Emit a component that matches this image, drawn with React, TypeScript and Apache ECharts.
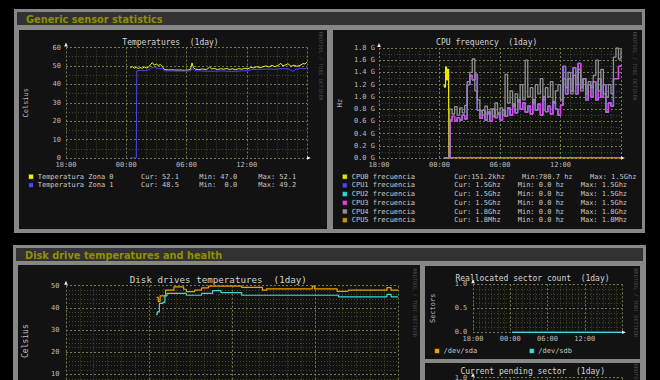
import React, { useEffect, useRef } from 'react';
import * as echarts from 'echarts';

// ---------------- data ----------------
// x values are hours elapsed since 18:00 of the previous day
const xTickLabels = ['18:00', '00:00', '06:00', '12:00'];

const tempSeriesNames = ['Temperatura Zona 0', 'Temperatura Zona 1'];
const tempCur = ['52.1', '48.5'];
const tempMin = ['47.0', ' 0.0'];
const tempMax = ['52.1', '49.2'];

const zona0Values: [number, number][] = [
  [6.4, 49.0], [6.6, 49.6], [6.8, 48.8], [7.0, 49.3], [7.2, 48.6], [7.4, 49.1], [7.6, 48.7], [7.8, 49.4],
  [8.0, 48.9], [8.2, 49.2], [8.4, 50.6], [8.6, 51.8], [8.8, 50.4], [9.0, 51.0], [9.2, 50.2], [9.4, 50.8],
  [9.6, 49.6], [9.8, 48.0], [10.2, 47.8], [10.6, 47.9], [11.0, 47.7], [11.4, 47.8], [11.8, 47.6], [12.2, 47.8],
  [12.4, 48.2], [12.55, 51.6], [12.7, 49.0], [12.9, 48.2], [13.2, 48.0], [13.6, 48.3], [14.0, 48.0], [14.3, 49.4],
  [14.5, 48.4], [14.8, 48.6], [15.1, 48.0], [15.4, 48.5], [15.7, 48.2], [16.0, 48.6], [16.3, 48.1], [16.6, 48.4],
  [16.9, 48.0], [17.2, 48.5], [17.5, 48.2], [17.8, 48.7], [18.1, 48.3], [18.4, 49.3], [18.7, 48.9], [19.0, 49.6],
  [19.3, 49.0], [19.6, 49.5], [19.9, 50.0], [20.2, 49.4], [20.5, 50.3], [20.8, 49.6], [21.1, 50.2], [21.4, 51.4],
  [21.6, 50.0], [21.9, 50.6], [22.1, 51.2], [22.4, 49.8], [22.7, 50.4], [23.0, 49.8], [23.3, 50.2], [23.6, 51.3],
  [23.8, 51.0], [24.0, 52.1],
];

const zona1Values: [number, number][] = [
  [6.4, 0], [7.0, 0], [7.05, 47.3], [7.4, 47.6], [7.8, 47.4], [8.2, 47.8], [8.5, 48.9], [8.8, 49.2],
  [9.2, 48.7], [9.6, 48.4], [9.8, 47.4], [10.5, 47.3], [11.5, 47.2], [12.4, 47.3], [12.55, 48.6], [12.8, 47.5],
  [13.5, 47.2], [14.5, 47.1], [15.5, 47.3], [16.5, 47.0], [17.5, 47.3], [18.1, 47.4], [18.5, 48.0], [19.2, 48.1],
  [20.0, 48.3], [20.8, 48.2], [21.5, 48.5], [22.2, 48.4], [22.6, 47.0], [22.9, 48.2], [23.4, 48.6], [23.8, 48.4],
  [24.0, 49.0],
];

const cpuSeriesNames = ['CPU0 frecuencia', 'CPU1 frecuencia', 'CPU2 frecuencia', 'CPU3 frecuencia', 'CPU4 frecuencia', 'CPU5 frecuencia'];
const cpuCur = ['151.2khz', ' 1.5Ghz', ' 1.5Ghz', ' 1.5Ghz', ' 1.8Ghz', ' 1.8Mhz'];
const cpuMin = ['780.7 hz', ' 0.0 hz', ' 0.0 hz', ' 0.0 hz', ' 0.0 hz', ' 0.0 hz'];
const cpuMax = [' 1.5Ghz', ' 1.5Ghz', ' 1.5Ghz', ' 1.5Ghz', ' 1.8Ghz', ' 1.8Mhz'];

// GHz
const cpu0Values: [number, number][] = [
  [6.43, 1.2], [6.5, 1.16], [6.6, 1.49], [6.7, 1.28], [6.8, 1.45], [6.9, 1.3], [6.93, 0.0002], [24.0, 0.00015],
];
const cpu3Values: [number, number][] = [
  [6.43, 0], [6.95, 0], [7.05, 0.62], [7.25, 0.68], [7.5, 0.6], [7.75, 0.66], [8.0, 0.62], [8.25, 0.7],
  [8.5, 0.64], [8.75, 1.2], [9.0, 1.35], [9.25, 1.28], [9.5, 1.37], [9.75, 0.78], [10.0, 0.65], [10.25, 0.78],
  [10.5, 0.62], [10.75, 0.75], [11.0, 0.6], [11.25, 0.8], [11.5, 0.66], [11.75, 0.72], [12.0, 0.62], [12.25, 0.78],
  [12.5, 0.68], [12.75, 0.82], [13.0, 0.7], [13.25, 0.88], [13.5, 0.74], [13.75, 0.95], [14.0, 0.8], [14.25, 0.9],
  [14.5, 0.75], [14.75, 0.85], [15.0, 0.72], [15.25, 0.95], [15.5, 0.78], [15.75, 0.88], [16.0, 0.7], [16.25, 1.0],
  [16.5, 0.76], [16.75, 0.85], [17.0, 0.72], [17.25, 0.92], [17.5, 0.8], [17.75, 0.7], [18.0, 0.86], [18.25, 1.5],
  [18.5, 1.05], [18.75, 1.3], [19.0, 1.1], [19.25, 1.48], [19.5, 1.05], [19.75, 1.55], [20.0, 1.15], [20.25, 1.3],
  [20.5, 0.95], [20.75, 1.2], [21.0, 1.0], [21.25, 1.25], [21.5, 0.95], [21.75, 1.3], [22.0, 1.0], [22.25, 1.2],
  [22.5, 0.75], [22.75, 0.9], [23.0, 0.85], [23.25, 1.3], [23.5, 1.3], [23.75, 1.5], [24.0, 1.52],
];
// CPU1..CPU3 share one clock domain, so their readings coincide
const cpu1Values = cpu3Values;
const cpu2Values = cpu3Values;
const cpu4Values: [number, number][] = [
  [6.43, 0], [6.95, 0], [7.0, 0.8], [7.25, 0.72], [7.5, 0.84], [7.75, 0.7], [8.0, 0.82], [8.25, 0.74],
  [8.5, 0.86], [8.75, 1.25], [9.0, 1.4], [9.25, 1.62], [9.5, 1.1], [9.75, 0.95], [10.0, 0.78], [10.25, 0.7],
  [10.5, 0.85], [10.75, 0.72], [11.0, 0.8], [11.25, 0.68], [11.5, 0.9], [11.75, 0.74], [12.0, 0.82], [12.25, 0.7],
  [12.5, 1.37], [12.75, 0.9], [13.0, 1.1], [13.25, 0.85], [13.5, 1.05], [13.75, 0.92], [14.0, 1.2], [14.25, 0.95],
  [14.5, 1.6], [14.75, 1.0], [15.0, 1.15], [15.25, 0.9], [15.5, 1.2], [15.75, 1.05], [16.0, 1.3], [16.25, 0.95],
  [16.5, 1.15], [16.75, 1.0], [17.0, 1.25], [17.25, 0.9], [17.5, 1.1], [17.75, 1.2], [18.0, 0.95], [18.25, 1.3],
  [18.5, 1.15], [18.75, 1.4], [19.0, 1.05], [19.25, 1.35], [19.5, 1.2], [19.75, 1.45], [20.0, 1.1], [20.25, 1.3],
  [20.5, 1.05], [20.75, 1.25], [21.0, 1.15], [21.25, 1.35], [21.5, 1.6], [21.75, 1.1], [22.0, 1.45], [22.25, 1.05],
  [22.5, 1.0], [22.75, 1.2], [23.0, 1.05], [23.25, 1.65], [23.5, 1.8], [23.75, 1.62], [24.0, 1.78],
];
const cpu5Values: [number, number][] = [[7.0, 0.0018], [24.0, 0.0018]];

const diskNames = ['/dev/sda', '/dev/sdb'];
const sdaTemps: [number, number][] = [
  [6.55, 44.7], [6.67, 42.8], [6.8, 45.4], [7.05, 45.4], [7.2, 48.0], [7.6, 48.0], [7.8, 49.5], [8.3, 49.5],
  [8.5, 48.4], [8.7, 47.3], [9.1, 47.3], [9.3, 48.0], [9.6, 48.0], [9.8, 49.0], [10.2, 49.0], [10.3, 49.8],
  [12.6, 49.8], [12.7, 49.2], [14.0, 49.2], [14.2, 48.0], [14.5, 48.6], [17.7, 48.6], [17.8, 49.8], [17.95, 48.6],
  [19.5, 48.6], [19.6, 47.4], [20.3, 47.6], [20.4, 48.0], [23.1, 48.0], [23.2, 49.1], [23.4, 49.1], [23.5, 48.0],
  [24.0, 48.0],
];
const sdbTemps: [number, number][] = [
  [6.5, 37.1], [6.6, 38.2], [6.75, 42.0], [7.0, 42.5], [7.15, 45.4], [7.3, 46.5], [8.6, 46.5], [8.7, 45.7],
  [9.7, 45.7], [9.8, 46.5], [10.5, 46.5], [10.6, 47.8], [11.1, 47.8], [11.2, 46.9], [12.6, 46.9], [12.7, 45.7],
  [19.6, 45.7], [19.7, 45.0], [23.1, 45.0], [23.2, 46.1], [23.4, 46.1], [23.5, 45.0], [24.0, 44.8],
];
const sdaRealloc: [number, number][] = [[6.3, 0], [24.0, 0]];
const sdbRealloc: [number, number][] = [[6.3, 0], [24.0, 0]];
const sdaPending: [number, number][] = [[6.3, 0], [24.0, 0]];
const sdbPending: [number, number][] = [[6.3, 0], [24.0, 0]];

// ---------------- styles / layout ----------------
const MONO = '"DejaVu Sans Mono", "Liberation Mono", monospace';
const SANS = '"DejaVu Sans", Verdana, sans-serif';
const LABEL = '#bdbdbd';
const MAJOR = '#6c7f4e';
const MINOR = '#424a22';
const PANEL = '#878787';
const TITLEBAR = '#323232';
const BOX = '#121212';
const OLIVE = '#909000';
const WATERMARK = '#4a4a4a';

const tempColors = ['#eeee22', '#4848f0'];
const cpuColors = ['#e8e800', '#4848f0', '#30d8d8', '#e040e0', '#909090', '#d09010'];
const diskColors = ['#f0a000', '#40d8d8'];

const GRIDS = [
  { left: 66, top: 47.5, width: 241, height: 110.5 },
  { left: 379, top: 48, width: 242, height: 110 },
  { left: 66, top: 285.7, width: 332, height: 110.8 },
  { left: 473, top: 284.3, width: 149, height: 48 },
  { left: 473, top: 377.7, width: 149, height: 48 },
];

const pre = (s: string) => s.replace(/  /g, ' \u00a0');

function makeX(gridIndex: number) {
  return {
    type: 'value', gridIndex, min: 0, max: 24, interval: 6,
    axisLine: { show: false }, axisTick: { show: false },
    axisLabel: {
      show: true, color: LABEL, fontFamily: MONO, fontSize: 7, margin: 3,
      formatter: (v: number) => xTickLabels[Math.round(v / 6)] ?? '',
    },
    splitLine: { show: true, lineStyle: { color: MAJOR, width: 1, type: [2, 2] } },
    minorTick: { show: false, splitNumber: 6 },
    minorSplitLine: { show: true, lineStyle: { color: MINOR, width: 1, type: [1, 2] } },
  };
}

function makeY(gridIndex: number, max: number, interval: number, minorSplit: number, name: string,
  nameGap: number, margin: number, fmt: (v: number) => string, nameSize = 7) {
  return {
    type: 'value', gridIndex, min: 0, max, interval,
    name, nameLocation: 'middle', nameRotate: 90, nameGap, nameMoveOverlap: false,
    nameTextStyle: { color: LABEL, fontFamily: MONO, fontSize: nameSize },
    axisLine: { show: false }, axisTick: { show: false },
    axisLabel: { show: true, color: LABEL, fontFamily: MONO, fontSize: 7, margin, formatter: fmt },
    splitLine: { show: true, lineStyle: { color: MAJOR, width: 1, type: [2, 2] } },
    minorTick: { show: false, splitNumber: minorSplit },
    minorSplitLine: { show: true, lineStyle: { color: MINOR, width: 1, type: [1, 2] } },
  };
}

function line(name: string, idx: number, data: [number, number][], color: string, step?: string, width = 1) {
  return {
    type: 'line', name, xAxisIndex: idx, yAxisIndex: idx, data, step: step ?? false,
    showSymbol: false, symbol: 'none', silent: true,
    lineStyle: { color, width }, itemStyle: { color },
  };
}

function rect(x: number, y: number, w: number, h: number, fill: string, z = -10) {
  return { type: 'rect', z, silent: true, shape: { x, y, width: w, height: h }, style: { fill } };
}

function text(x: number, y: number, s: string, o: any = {}) {
  return {
    type: 'text', x, y, rotation: o.rotation ?? 0, z: 50, silent: true,
    style: {
      text: s, fill: o.color ?? '#c8c8c8', fontSize: o.size ?? 7, fontFamily: o.family ?? MONO,
      fontWeight: o.weight ?? 'normal', textAlign: o.align ?? 'left', textVerticalAlign: 'middle',
    },
  };
}

function square(x: number, y: number, color: string) {
  return { type: 'rect', z: 50, silent: true, shape: { x, y: y - 2.5, width: 5, height: 5 }, style: { fill: color, stroke: '#000', lineWidth: 0.5 } };
}

function buildGraphic() {
  const els: any[] = [];
  // panels
  els.push(rect(14, 9, 631, 224, PANEL));
  els.push(rect(17, 12, 625, 13, TITLEBAR));
  els.push(rect(19, 30, 308, 199, BOX));
  els.push(rect(333, 30, 309, 199, BOX));
  els.push(rect(13, 245, 633, 140, PANEL));
  els.push(rect(16, 248, 627, 13, TITLEBAR));
  els.push(rect(18, 265, 402, 120, BOX));
  els.push(rect(425, 266, 215, 93, BOX));
  els.push(rect(425, 363, 215, 30, BOX));

  els.push(text(26, 19, 'Generic sensor statistics', { family: SANS, weight: 'bold', size: 9.8, color: OLIVE }));
  els.push(text(25, 255, 'Disk drive temperatures and health', { family: SANS, weight: 'bold', size: 9.8, color: OLIVE }));

  // chart titles
  els.push(text(170.5, 42, pre('Temperatures  (1day)'), { size: 8, align: 'center', color: '#d4d4d4' }));
  els.push(text(486.7, 42, pre('CPU frequency  (1day)'), { size: 8, align: 'center', color: '#d4d4d4' }));
  els.push(text(218.3, 279, pre('Disk drives temperatures  (1day)'), { size: 9.2, align: 'center', color: '#d4d4d4' }));
  els.push(text(532.5, 278.3, pre('Reallocated sector count  (1day)'), { size: 8, align: 'center', color: '#d4d4d4' }));
  els.push(text(532.7, 371.7, pre('Current pending sector  (1day)'), { size: 8, align: 'center', color: '#d4d4d4' }));

  // watermarks
  const wm = 'RRDTOOL / TOBI OETIKER';
  [[320.5, 32], [635.3, 32], [415, 268.5], [635.8, 268.5], [635.8, 364]].forEach(([x, y]) =>
    els.push(text(x, y, wm, { size: 5.2, color: WATERMARK, rotation: -Math.PI / 2 })));

  // axis arrows
  GRIDS.forEach((g) => {
    const L = g.left, T = g.top, R = g.left + g.width, B = g.top + g.height;
    els.push({ type: 'polygon', z: 40, silent: true, shape: { points: [[L - 1.8, T - 1], [L + 1.8, T - 1], [L, T - 5]] }, style: { fill: '#eeeeee' } });
    if (B < 380) els.push({ type: 'polygon', z: 40, silent: true, shape: { points: [[R, B - 1.8], [R, B + 1.8], [R + 3.8, B]] }, style: { fill: '#eeeeee' } });
  });

  // temperatures legend
  tempSeriesNames.forEach((n, i) => {
    const y = 176.7 + i * 8.5;
    els.push(square(28.5, y, tempColors[i]));
    els.push(text(37.7, y, n));
    els.push(text(141, y, pre('Cur: ' + tempCur[i])));
    els.push(text(199.3, y, pre('Min: ' + tempMin[i])));
    els.push(text(258.3, y, pre('Max: ' + tempMax[i])));
  });

  // cpu legend
  cpuSeriesNames.forEach((n, i) => {
    const y = 176.7 + i * 8.7;
    els.push(square(342.3, y, cpuColors[i]));
    els.push(text(351.7, y, n));
    els.push(text(454.3, y, pre('Cur:' + cpuCur[i])));
    els.push(text(i === 0 ? 522 : 517.7, y, pre('Min:' + cpuMin[i])));
    els.push(text(i === 0 ? 590 : 580.7, y, pre('Max:' + cpuMax[i])));
  });

  // realloc legend
  els.push(square(434.5, 351, diskColors[0]));
  els.push(text(443.5, 351, diskNames[0]));
  els.push(square(529.3, 351, diskColors[1]));
  els.push(text(538.3, 351, diskNames[1]));
  return els;
}

function buildOption() {
  const f0 = (v: number) => String(Math.round(v));
  const fG = (v: number) => v.toFixed(1) + ' G';
  const f1 = (v: number) => v.toFixed(1);
  return {
    backgroundColor: '#000',
    animation: false,
    grid: GRIDS.map((g) => ({ ...g, show: false, containLabel: false, outerBoundsMode: 'none' })),
    xAxis: GRIDS.map((_, i) => makeX(i)),
    yAxis: [
      makeY(0, 60, 10, 2, 'Celsius', 37, 5, f0),
      makeY(1, 1.8, 0.2, 2, 'Hz', 35.5, 4, fG),
      makeY(2, 50, 10, 5, 'Celsius', 36.3, 6.5, f0, 8),
      makeY(3, 1, 0.5, 5, 'Sectors', 36.8, 5.7, f1),
      makeY(4, 1, 0.5, 5, 'Sectors', 36.8, 5.7, f1),
    ],
    series: [
      line(tempSeriesNames[0], 0, zona0Values, tempColors[0]),
      line(tempSeriesNames[1], 0, zona1Values, tempColors[1]),
      line(cpuSeriesNames[0], 1, cpu0Values, cpuColors[0], 'end', 1.2),
      line(cpuSeriesNames[1], 1, cpu1Values, cpuColors[1], 'end', 1.3),
      line(cpuSeriesNames[2], 1, cpu2Values, cpuColors[2], 'end', 1.3),
      line(cpuSeriesNames[3], 1, cpu3Values, cpuColors[3], 'end', 1.3),
      line(cpuSeriesNames[4], 1, cpu4Values, cpuColors[4], 'end', 1.3),
      line(cpuSeriesNames[5], 1, cpu5Values, cpuColors[5], 'end', 1.2),
      line(diskNames[0], 2, sdaTemps, diskColors[0], 'end', 1.2),
      line(diskNames[1], 2, sdbTemps, diskColors[1], 'end', 1.2),
      line(diskNames[0], 3, sdaRealloc, diskColors[0], undefined, 1.2),
      line(diskNames[1], 3, sdbRealloc, diskColors[1], undefined, 1.2),
      line(diskNames[0], 4, sdaPending, diskColors[0], undefined, 1.2),
      line(diskNames[1], 4, sdbPending, diskColors[1], undefined, 1.2),
    ],
    graphic: { elements: buildGraphic() },
  };
}

export default function App() {
  const ref = useRef<HTMLDivElement>(null);
  useEffect(() => {
    const chart = echarts.init(ref.current!, null, { renderer: 'svg', width: 660, height: 380 });
    chart.setOption(buildOption() as any);
    return () => chart.dispose();
  }, []);
  return <div ref={ref} style={{ position: 'fixed', left: 0, top: 0, width: 660, height: 380 }} />;
}
